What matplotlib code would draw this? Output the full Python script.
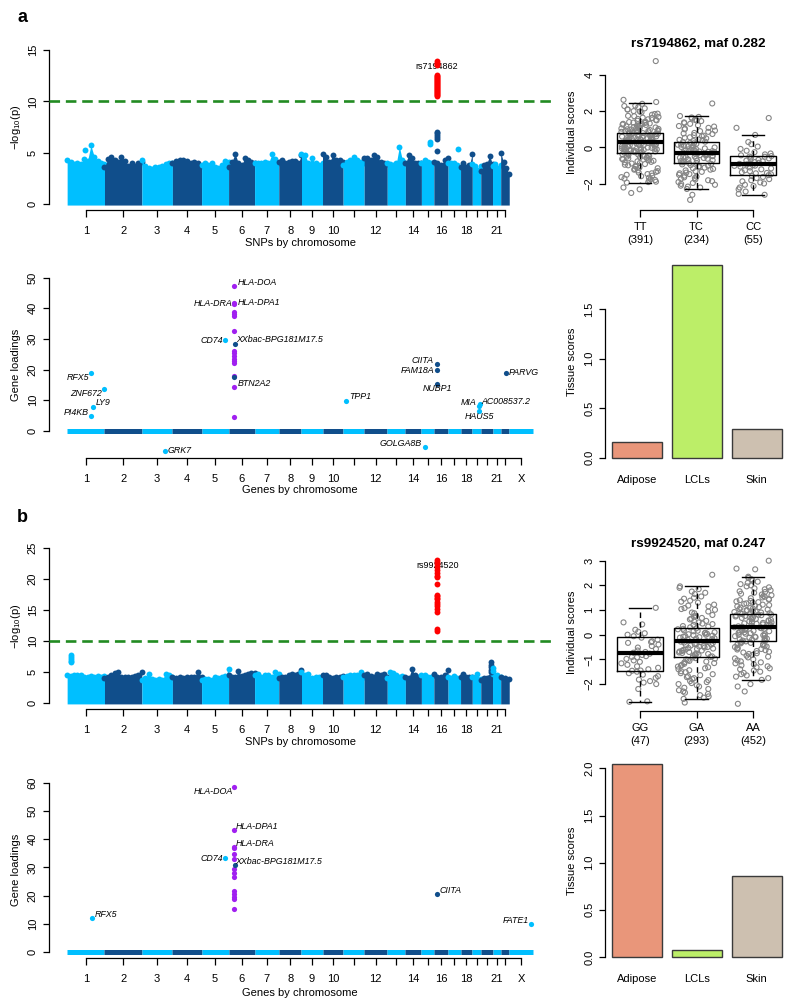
import numpy as np
import matplotlib
matplotlib.use("Agg")
import matplotlib.pyplot as plt

plt.rcParams['font.family'] = ['Liberation Sans', 'DejaVu Sans']
plt.rcParams['mathtext.fontset'] = 'custom'
plt.rcParams['mathtext.rm'] = 'Liberation Sans'
plt.rcParams['mathtext.it'] = 'Liberation Sans:italic'
plt.rcParams['axes.linewidth'] = 0.9

# ---------------------------------------------------------------- data
CHROMS = [str(i) for i in range(1, 23)] + ['X']
# relative span of each chromosome on the genome axis
CHROM_SPAN = [37.5, 37.5, 30.7, 29.3, 27.1, 26.1, 24.3, 22.8, 21.1, 20.7, 21.1, 23.2,
              18.2, 16.1, 12.5, 14.3, 12.5, 11.8, 8.5, 11.8, 8.2, 8.6, 24.0]
SNP_TICK_LABELS = ['1', '2', '3', '4', '5', '6', '7', '8', '9', '10', '', '12', '',
                   '14', '', '16', '', '18', '', '', '21', '']
GENE_TICK_LABELS = SNP_TICK_LABELS + ['X']

# Manhattan background: upper envelope of -log10(p) along each chromosome
ENV_A = [
    [4.3, 4.1, 3.9, 4.0, 3.9, 4.4, 4.2, 5.7, 4.6, 4.2, 3.95, 3.9],
    [3.6, 4.4, 4.6, 4.3, 4.1, 4.6, 4.2, 3.7, 3.95, 3.7, 3.95, 4.1],
    [4.3, 3.7, 3.5, 3.4, 3.6, 3.65, 3.7, 3.9, 3.95, 4.0],
    [3.95, 4.15, 4.3, 4.3, 4.2, 3.95, 4.1, 3.95, 3.75],
    [3.8, 3.95, 3.8, 3.95, 3.6, 3.55, 3.8, 4.2, 4.1],
    [3.6, 4.1, 4.9, 4.0, 3.8, 4.5, 4.3, 4.1, 3.95],
    [3.95, 3.95, 3.95, 4.1, 3.95, 4.85, 4.4, 3.95],
    [4.1, 4.3, 3.95, 4.1, 4.2, 4.2, 3.95, 4.8],
    [4.9, 4.8, 3.95, 4.45, 3.95, 3.8, 3.95],
    [4.9, 4.6, 4.1, 4.75, 4.3, 4.3, 4.1],
    [3.8, 4.1, 4.3, 4.6, 4.3, 4.1, 3.95],
    [4.45, 4.45, 4.3, 4.75, 4.6, 4.1, 3.95, 3.9],
    [3.95, 3.9, 3.8, 3.95, 5.6, 4.3, 3.95],
    [3.95, 4.75, 4.45, 4.0, 3.95, 3.95],
    [3.95, 4.3, 4.1, 3.95, 3.95],
    [4.1, 4.0, 3.8, 4.3, 4.45],
    [3.95, 3.95, 3.95, 3.8, 3.6],
    [3.6, 3.95, 3.6, 3.8, 4.9],
    [3.9, 3.7, 3.3, 3.7],
    [3.2, 3.8, 3.9, 4.7, 3.9],
    [3.7, 3.9, 3.5, 3.8],
    [5.0, 4.1, 3.5, 2.9],
]
ENV_B = [
    [4.5, 4.4, 4.5, 4.6, 4.5, 4.3, 4.2, 4.4, 4.3, 4.4, 4.3, 4.4],
    [4.1, 4.3, 4.5, 4.9, 5.0, 4.3, 4.2, 4.3, 4.3, 4.4, 4.6, 5.0],
    [3.8, 4.0, 4.8, 3.9, 3.8, 3.9, 3.8, 4.8, 4.6, 4.3],
    [4.2, 4.0, 4.3, 4.0, 4.3, 4.2, 4.3, 5.1, 4.3],
    [3.8, 3.9, 3.9, 3.8, 4.3, 4.0, 4.3, 4.4, 5.5],
    [4.5, 4.3, 4.2, 5.2, 4.4, 4.5, 4.8, 4.9, 4.9],
    [4.6, 4.8, 4.3, 4.5, 4.6, 4.3, 5.1, 4.8],
    [4.0, 4.3, 4.3, 4.6, 4.8, 4.6, 4.8, 5.4],
    [5.1, 4.6, 4.8, 4.0, 4.2, 4.3, 4.3],
    [4.6, 4.6, 4.3, 4.0, 4.3, 4.2, 4.4],
    [4.3, 4.4, 4.6, 4.6, 4.5, 5.0, 4.3],
    [4.6, 4.8, 4.4, 4.3, 4.8, 4.5, 4.8, 4.3],
    [4.0, 5.1, 4.9, 4.6, 4.3, 4.4, 4.1],
    [4.3, 4.0, 5.6, 4.5, 4.3, 4.4],
    [4.6, 4.5, 4.3, 4.2, 4.6],
    [4.8, 4.3, 4.3, 4.5, 5.3],
    [4.3, 4.0, 4.4, 4.1, 4.0],
    [4.3, 4.8, 4.3, 4.2, 4.2],
    [4.2, 4.8, 3.9],
    [3.8, 4.0, 4.0, 4.2, 4.3],
    [4.7, 4.6, 4.3],
    [4.3, 4.0, 3.9],
]
# isolated SNPs above the background: (chromosome, fraction along it, -log10 p values)
EXTRA_A = [(16, 0.23, [5.2, 6.3, 6.5, 6.7, 6.9, 7.0]),
           (15, 0.65, [5.8, 6.0]),
           (17, 0.80, [5.4]),
           (1, 0.47, [5.3])]
EXTRA_B = [(1, 0.09, [6.6, 6.9, 7.2, 7.5, 7.8]),
           (20, 0.90, [5.0, 5.4, 5.8, 6.2, 6.6]),
           (21, 0.10, [5.2, 5.7])]
# genome-wide significant hits (red)
HITS_CHR_A, HITS_FRAC_A = 16, 0.23
HITS_A = [10.5, 10.6, 10.7, 10.8, 10.9, 11.0, 11.1, 11.2, 11.3, 11.4, 11.5, 11.6,
          11.7, 11.8, 11.9, 12.0, 12.1, 12.2, 12.3, 12.4, 12.5, 12.6, 13.5, 13.6, 13.7, 13.9]
HITS_CHR_B, HITS_FRAC_B = 16, 0.23
HITS_B = [11.7, 11.9, 14.8, 15.2, 15.7, 16.0, 16.4, 16.8, 17.0, 17.3, 17.5, 19.3,
          20.3, 20.6, 21.0, 21.5, 22.0, 22.4, 22.8, 23.1]
LEAD_SNP_A, LEAD_SNP_Y_A = 'rs7194862', 13.4
LEAD_SNP_B, LEAD_SNP_Y_B = 'rs9924520', 22.2
THRESHOLD = 10

# gene loadings: labelled genes
GENE_A_NAMES = ['HLA-DOA', 'HLA-DPA1', 'HLA-DRA', 'CD74', 'XXbac-BPG181M17.5', 'BTN2A2',
                'RFX5', 'ZNF672', 'LY9', 'PI4KB', 'GRK7', 'TPP1', 'GOLGA8B', 'CIITA',
                'FAM18A', 'NUBP1', 'PARVG', 'MIA', 'AC008537.2', 'HAUS5']
GENE_A_CHR = ['6', '6', '6', '5', '6', '6', '1', '1', '1', '1', '3', '11', '15', '16',
              '16', '16', '22', '19', '19', '19']
GENE_A_FRAC = [0.22, 0.22, 0.22, 0.88, 0.23, 0.22, 0.65, 0.99, 0.70, 0.65, 0.76, 0.12,
               0.26, 0.22, 0.22, 0.22, 0.58, 0.79, 0.86, 0.79]
GENE_A_LOAD = [47.3, 41.8, 41.5, 29.6, 28.5, 17.4, 18.8, 13.6, 7.8, 4.8, -6.5, 9.8,
               -5.4, 21.7, 19.8, 15.4, 19.0, 8.2, 8.6, 6.4]
GENE_A_HLA = [True, True, True] + [False] * 17
HLA_A_OTHER = [38.7, 38.1, 37.5, 32.7, 26.0, 25.3, 24.4, 23.4, 22.8, 22.2, 17.9, 14.4, 4.4]

GENE_B_NAMES = ['HLA-DOA', 'HLA-DPA1', 'HLA-DRA', 'CD74', 'XXbac-BPG181M17.5', 'RFX5',
                'CIITA', 'FATE1']
GENE_B_CHR = ['6', '6', '6', '5', '6', '1', '16', 'X']
GENE_B_FRAC = [0.22, 0.22, 0.22, 0.88, 0.23, 0.66, 0.22, 0.93]
GENE_B_LOAD = [58.6, 43.4, 37.2, 33.3, 30.9, 12.0, 20.4, 10.0]
GENE_B_HLA = [True, True, True, False, False, False, False, False]
HLA_B_OTHER = [36.8, 34.9, 33.1, 29.3, 27.9, 26.5, 21.7, 20.5, 19.6, 18.6, 15.3]
HLA_FRAC = 0.22

# individual scores by genotype
GENO_A = ['TT', 'TC', 'CC']
GENO_A_N = [391, 234, 55]
TITLE_A = 'rs7194862, maf 0.282'
TT_SCORES = [4.75, 2.62, 2.4, 2.3, 2.22, 2.15, 2.08, 2.0, 1.93, 1.86, 1.8, 1.74, 1.68, 1.62,
             1.57, 1.52, 1.47, 1.42, 1.37, 1.32, 1.28, 1.24, 1.2, 1.16, 1.12, 1.08, 1.04,
             1.0, 0.97, 0.94, 0.91, 0.88, 0.85, 0.82, 0.79, 0.76, 0.73, 0.7, 0.67, 0.64,
             0.61, 0.58, 0.55, 0.52, 0.49, 0.46, 0.43, 0.4, 0.37, 0.34, 0.31, 0.28, 0.25,
             0.22, 0.19, 0.16, 0.13, 0.1, 0.07, 0.04, 0.01, -0.02, -0.05, -0.08, -0.11,
             -0.14, -0.17, -0.2, -0.23, -0.26, -0.29, -0.33, -0.37, -0.41, -0.45, -0.5,
             -0.55, -0.6, -0.65, -0.7, -0.76, -0.82, -0.88, -0.95, -1.02, -1.1, -1.18,
             -1.26, -1.34, -1.42, -1.5, -1.58, -1.66, -1.74, -1.82, -1.88, -1.93, -2.2,
             -2.3, -2.5,
             2.5, 2.28, 2.1, 1.97, 1.84, 1.72, 1.64, 1.55, 1.49, 1.4, 1.35, 1.3, 1.26, 1.22,
             1.18, 1.14, 1.1, 1.06, 1.02, 0.99, 0.96, 0.92, 0.89, 0.86, 0.83, 0.8, 0.77,
             0.74, 0.71, 0.69, 0.66, 0.63, 0.6, 0.57, 0.54, 0.51, 0.48, 0.45, 0.42, 0.39,
             0.36, 0.33, 0.3, 0.27, 0.24, 0.21, 0.18, 0.15, 0.12, 0.09, 0.06, 0.03, 0.0,
             -0.03, -0.07, -0.1, -0.13, -0.16, -0.19, -0.22, -0.25, -0.28, -0.31, -0.35,
             -0.39, -0.43, -0.48, -0.53, -0.58, -0.63, -0.68, -0.73, -0.79, -0.85, -0.91,
             -0.98, -1.06, -1.14, -1.22, -1.3, -1.38, -1.46, -1.55, -1.63, -1.71, -1.79, -1.9]
TC_SCORES = [2.42, 1.73, 1.68, 1.6, 1.52, 1.45, 1.38, 1.3, 1.22, 1.15, 1.08, 1.0, 0.93,
             0.86, 0.8, 0.74, 0.68, 0.62, 0.56, 0.5, 0.45, 0.4, 0.35, 0.3, 0.25, 0.2, 0.15,
             0.1, 0.05, 0.0, -0.05, -0.1, -0.14, -0.18, -0.22, -0.26, -0.3, -0.34, -0.38,
             -0.42, -0.46, -0.5, -0.54, -0.58, -0.62, -0.67, -0.72, -0.77, -0.82, -0.87,
             -0.93, -1.0, -1.07, -1.14, -1.22, -1.3, -1.38, -1.46, -1.55, -1.64, -1.72,
             -1.8, -1.9, -2.0, -2.1, -2.2, -2.28, -2.6, -2.88,
             1.65, 1.48, 1.34, 1.18, 1.03, 0.9, 0.77, 0.65, 0.53, 0.42, 0.32, 0.23, 0.16,
             0.08, 0.03, -0.03, -0.08, -0.12, -0.16, -0.2, -0.24, -0.28, -0.32, -0.36, -0.4,
             -0.44, -0.48, -0.52, -0.56, -0.6, -0.65, -0.7, -0.75, -0.8, -0.85, -0.9, -0.97,
             -1.04, -1.11, -1.18, -1.26, -1.34, -1.42, -1.5, -1.6, -1.68, -1.76, -1.85,
             -1.95, -2.05, -2.15]
CC_SCORES = [1.62, 1.08, 0.69, 0.3, 0.18, 0.05, -0.08, -0.18, -0.26, -0.33, -0.38, -0.43,
             -0.47, -0.51, -0.55, -0.6, -0.64, -0.68, -0.72, -0.76, -0.8, -0.84, -0.88,
             -0.9, -0.93, -0.97, -1.01, -1.05, -1.1, -1.15, -1.2, -1.25, -1.3, -1.36,
             -1.42, -1.47, -1.52, -1.57, -1.62, -1.68, -1.74, -1.8, -1.86, -1.92, -1.98,
             -2.05, -2.12, -2.2, -2.3, -2.42, -2.55, -2.6, -1.0, -0.5, -1.4]
# box statistics (whislo, q1, median, q3, whishi)
BOX_A = [[-1.93, -0.28, 0.28, 0.81, 2.43],
         [-2.28, -0.83, -0.30, 0.32, 1.73],
         [-2.60, -1.49, -0.90, -0.47, 0.69]]

GENO_B = ['GG', 'GA', 'AA']
GENO_B_N = [47, 293, 452]
TITLE_B = 'rs9924520, maf 0.247'
GG_SCORES = [1.09, 0.5, 0.42, 0.2, 0.12, 0.06, 0.0, -0.06, -0.12, -0.2, -0.27, -0.33,
             -0.4, -0.46, -0.52, -0.58, -0.64, -0.7, -0.73, -0.77, -0.82, -0.87, -0.92,
             -0.98, -1.04, -1.1, -1.16, -1.22, -1.28, -1.34, -1.4, -1.46, -1.5, -1.56,
             -1.62, -1.68, -1.75, -1.82, -1.88, -1.94, -2.0, -2.2, -2.72, -2.7, -0.3,
             -0.9, -1.45]
GA_SCORES = [2.43, 1.96, 1.85, 1.75, 1.65, 1.55, 1.46, 1.38, 1.3, 1.22, 1.15, 1.08, 1.01,
             0.94, 0.87, 0.8, 0.74, 0.68, 0.62, 0.56, 0.5, 0.45, 0.4, 0.35, 0.3, 0.26, 0.22,
             0.18, 0.14, 0.1, 0.06, 0.02, -0.02, -0.06, -0.1, -0.14, -0.18, -0.22, -0.26,
             -0.3, -0.34, -0.38, -0.42, -0.46, -0.5, -0.54, -0.58, -0.62, -0.66, -0.7,
             -0.74, -0.78, -0.82, -0.86, -0.9, -0.95, -1.0, -1.06, -1.12, -1.18, -1.25,
             -1.32, -1.4, -1.48, -1.56, -1.64, -1.72, -1.8, -1.88, -1.96, -2.05, -2.15,
             -2.25, -2.35, -2.45, -2.6, -2.55, -2.75,
             1.9, 1.7, 1.5, 1.34, 1.18, 1.04, 0.9, 0.77, 0.65, 0.53, 0.43, 0.33, 0.24, 0.16,
             0.08, 0.04, 0.0, -0.04, -0.08, -0.12, -0.16, -0.2, -0.24, -0.28, -0.32, -0.36,
             -0.4, -0.44, -0.48, -0.52, -0.56, -0.6, -0.64, -0.68, -0.72, -0.76, -0.8,
             -0.84, -0.88, -0.92, -0.97, -1.03, -1.09, -1.15, -1.22, -1.29, -1.36, -1.44,
             -1.52, -1.6, -1.68, -1.76, -1.84, -1.92, -2.0, -2.1, -2.2, -2.3, -2.4, -2.5]
AA_SCORES = [3.0, 2.68, 2.65, 2.35, 2.25, 2.15, 2.05, 1.96, 1.88, 1.8, 1.73, 1.66, 1.6,
             1.54, 1.48, 1.42, 1.37, 1.32, 1.27, 1.22, 1.17, 1.12, 1.08, 1.04, 1.0, 0.96,
             0.92, 0.88, 0.85, 0.82, 0.79, 0.76, 0.72, 0.68, 0.64, 0.6, 0.56, 0.52, 0.48,
             0.44, 0.4, 0.36, 0.32, 0.28, 0.24, 0.2, 0.16, 0.12, 0.08, 0.04, 0.0, -0.04,
             -0.08, -0.12, -0.16, -0.2, -0.24, -0.27, -0.31, -0.35, -0.4, -0.45, -0.5,
             -0.55, -0.6, -0.66, -0.72, -0.78, -0.85, -0.92, -1.0, -1.08, -1.16, -1.24,
             -1.32, -1.4, -1.5, -1.6, -1.7, -1.83, -2.0, -2.1, -2.3, -2.8,
             2.3, 2.2, 2.1, 2.0, 1.92, 1.84, 1.76, 1.7, 1.63, 1.57, 1.51, 1.45, 1.4, 1.35,
             1.3, 1.25, 1.2, 1.15, 1.1, 1.06, 1.02, 0.98, 0.94, 0.9, 0.87, 0.84, 0.81, 0.78,
             0.74, 0.7, 0.66, 0.62, 0.58, 0.54, 0.5, 0.46, 0.42, 0.38, 0.34, 0.3, 0.26,
             0.22, 0.18, 0.14, 0.1, 0.06, 0.02, -0.02, -0.06, -0.1, -0.14, -0.18, -0.22,
             -0.25, -0.29, -0.33, -0.38, -0.43, -0.48, -0.53, -0.58, -0.63, -0.69, -0.75,
             -0.82, -0.89, -0.96, -1.04, -1.12, -1.2, -1.28, -1.36, -1.45, -1.55, -1.65,
             -1.76]
BOX_B = [[-2.72, -1.49, -0.73, -0.09, 1.09],
         [-2.60, -0.90, -0.27, 0.26, 1.96],
         [-1.83, -0.27, 0.32, 0.85, 2.35]]

# tissue scores
TISSUES = ['Adipose', 'LCLs', 'Skin']
TISSUE_A = [0.155, 1.95, 0.29]
TISSUE_B = [2.05, 0.07, 0.86]

# ---------------------------------------------------------------- style
LIGHT = '#00BFFF'
DARK = '#104E8B'
PURPLE = '#A020F0'
TISSUE_COLORS = ['#E9967A', '#BCEE68', '#CDC0B0']
GREY = '#858585'
TICK_FS = 8
LAB_FS = 8

W, H = 800, 1008
fig = plt.figure(figsize=(W / 100, H / 100), dpi=100)

LEFT_L, LEFT_R = 48.5, 551.8
RIGHT_L, RIGHT_R = 605.0, 791.7


def add_axes_px(L, T, R, B):
    return fig.add_axes([L / W, 1 - B / H, (R - L) / W, (B - T) / H])


span = np.array(CHROM_SPAN)
starts = np.concatenate([[0.0], np.cumsum(span)[:-1]])
centers = starts + span / 2
total = span.sum()
XLIM = (-0.04 * total, 1.04 * total)


def chrom_x(ch, frac):
    i = CHROMS.index(str(ch))
    return starts[i] + frac * span[i]


def chrom_color(i):
    return LIGHT if i % 2 == 0 else DARK


def jitter_offsets(n):
    # deterministic, well-scrambled horizontal spread in [-0.5, 0.5)
    k = np.arange(n) + 1.0
    return (np.sin(k * 12.9898) * 43758.5453) % 1.0 - 0.5


def r_axes(ax, yticks, yticklabels=None, ylabel=None, ylabel_xpx=None, L=None, R=None):
    ax.spines['top'].set_visible(False)
    ax.spines['right'].set_visible(False)
    ax.spines['left'].set_bounds(yticks[0], yticks[-1])
    ax.set_yticks(yticks)
    if yticklabels is not None:
        ax.set_yticklabels(yticklabels)
    ax.tick_params(axis='y', length=4.5, width=0.9, pad=3.2, labelsize=TICK_FS,
                   rotation=90)
    for t in ax.get_yticklabels():
        t.set_va('center')
    if ylabel is not None:
        ax.set_ylabel(ylabel, fontsize=LAB_FS)
        ax.yaxis.set_label_coords((ylabel_xpx - L) / (R - L), 0.5)
        ax.yaxis.label.set_va('center')


def manhattan(ax, env, extra, hits_chr, hits_frac, hits, snp, snp_y, ylim):
    for i, e in enumerate(env):
        xs = starts[i] + np.linspace(0.0, 1.0, len(e)) * span[i]
        c = chrom_color(i)
        ax.fill_between(xs, -0.1, e, color=c, lw=0, zorder=2)
        ax.scatter(xs, e, s=18, color=c, lw=0, zorder=2)
    for ch, fr, vals in extra:
        i = CHROMS.index(str(ch))
        ax.scatter([chrom_x(ch, fr)] * len(vals), vals, s=18, color=chrom_color(i),
                   lw=0, zorder=3)
    hx = chrom_x(hits_chr, hits_frac)
    ax.text(hx, snp_y, snp, fontsize=6.5, ha='center', va='center', zorder=3)
    ax.scatter([hx] * len(hits), hits, s=18, color='red', lw=0, zorder=4)
    ax.axhline(THRESHOLD, color='#228B22', lw=1.9, dashes=(4, 2.2), zorder=5)
    ax.set_xlim(*XLIM)
    ax.set_ylim(*ylim)
    ax.set_xticks(centers[:22])
    ax.set_xticklabels(SNP_TICK_LABELS)
    ax.spines['bottom'].set_bounds(centers[0], centers[21])
    ax.tick_params(axis='x', length=5, width=0.9, pad=6.5, labelsize=TICK_FS)


def genes(ax, names, chrs, fracs, loads, is_hla, hla_other, layout, ylim):
    for i in range(len(CHROMS)):
        ax.plot([starts[i], starts[i] + span[i]], [0, 0], color=chrom_color(i), lw=3.6,
                solid_capstyle='butt', zorder=2)
    hx = chrom_x(6, HLA_FRAC)
    ax.scatter([hx] * len(hla_other), hla_other, s=14, color=PURPLE, lw=0, zorder=3)
    for nm, ch, fr, ld, hla in zip(names, chrs, fracs, loads, is_hla):
        x = chrom_x(ch, fr)
        c = PURPLE if hla else chrom_color(CHROMS.index(ch))
        ax.scatter([x], [ld], s=14, color=c, lw=0, zorder=4)
        ha, dx, dy = layout[nm]
        ax.annotate(nm, (x, ld), xytext=(dx, dy), textcoords='offset points',
                    ha=ha, va='center', fontsize=6.4, style='italic', zorder=5)
    ax.set_xlim(*XLIM)
    ax.set_ylim(*ylim)
    ax.set_xticks(centers)
    ax.set_xticklabels(GENE_TICK_LABELS)
    ax.spines['bottom'].set_bounds(centers[0], centers[-1])
    ax.tick_params(axis='x', length=5, width=0.9, pad=6.5, labelsize=TICK_FS)


def boxpanel(ax, scores_list, box, geno, counts, title, title_y, ylim):
    for k, scores in enumerate(scores_list):
        xs = (k + 1) + jitter_offsets(len(scores)) * 0.66
        ax.scatter(xs, scores, s=13, facecolors='none', edgecolors=GREY, lw=0.8,
                   zorder=2)
    stats = [dict(whislo=b[0], q1=b[1], med=b[2], q3=b[3], whishi=b[4], fliers=[])
             for b in box]
    ax.bxp(stats, positions=[1, 2, 3], widths=0.8, showfliers=False,
           boxprops=dict(color='black', lw=1.0, zorder=3),
           whiskerprops=dict(color='black', lw=1.0, ls=(0, (4, 3)), zorder=3),
           capprops=dict(color='black', lw=1.0, zorder=3),
           medianprops=dict(color='black', lw=3.0, zorder=3))
    ax.set_xlim(0.38, 3.685)
    ax.set_ylim(*ylim)
    ax.set_xticks([1, 2, 3])
    ax.set_xticklabels([f'{g}\n({n})' for g, n in zip(geno, counts)], linespacing=1.3)
    ax.spines['bottom'].set_bounds(1, 3)
    ax.tick_params(axis='x', length=5, width=0.9, pad=4, labelsize=TICK_FS)
    ax.text(0.5, title_y, title, transform=ax.transAxes, ha='center', va='center',
            fontsize=9.7, fontweight='bold')


def barpanel(ax, vals, ylim):
    ax.bar([0.7, 1.9, 3.1], vals, width=1.0, color=TISSUE_COLORS, edgecolor='#3a3a3a',
           lw=1.0, zorder=2)
    ax.set_xlim(0.066, 3.8)
    ax.set_ylim(*ylim)
    ax.set_xticks([0.7, 1.9, 3.1])
    ax.set_xticklabels(TISSUES)
    ax.spines['bottom'].set_visible(False)
    ax.tick_params(axis='x', length=0, pad=5.5, labelsize=TICK_FS)


LAYOUT_A = {
    'HLA-DOA': ('left', 2.8, 2.4), 'HLA-DPA1': ('left', 2.1, 0.0),
    'HLA-DRA': ('right', -1.0, 0.0), 'CD74': ('right', -1.8, 0.0),
    'XXbac-BPG181M17.5': ('left', 1.5, 2.9), 'BTN2A2': ('left', 2.6, -4.3),
    'RFX5': ('right', -1.8, -3.1), 'ZNF672': ('right', -1.8, -3.1),
    'LY9': ('left', 1.5, 2.9), 'PI4KB': ('right', -1.8, 2.7),
    'GRK7': ('left', 2.1, 0.0), 'TPP1': ('left', 2.6, 2.9),
    'GOLGA8B': ('right', -2.4, 2.9), 'CIITA': ('right', -2.4, 3.1),
    'FAM18A': ('right', -1.8, 0.0), 'NUBP1': ('center', 0.0, -3.6),
    'PARVG': ('left', 2.1, 0.0), 'MIA': ('right', -1.8, 2.2),
    'AC008537.2': ('left', 1.1, 2.0), 'HAUS5': ('center', 0.0, -3.6),
}
LAYOUT_B = {
    'HLA-DOA': ('right', -1.3, -3.1), 'HLA-DPA1': ('left', 1.3, 2.4),
    'HLA-DRA': ('left', 1.3, 2.4), 'CD74': ('right', -1.8, 0.0),
    'XXbac-BPG181M17.5': ('left', 0.5, 2.4), 'RFX5': ('left', 1.8, 2.7),
    'CIITA': ('left', 2.1, 2.7), 'FATE1': ('right', -2.1, 2.4),
}

# ---------------------------------------------------------------- panel a
ax = add_axes_px(LEFT_L, 43.8, LEFT_R, 210.2)
manhattan(ax, ENV_A, EXTRA_A, HITS_CHR_A, HITS_FRAC_A, HITS_A, LEAD_SNP_A, LEAD_SNP_Y_A,
          (-0.6, 15.6))
r_axes(ax, [0, 5, 10, 15], ylabel=r'$\mathregular{-log_{10}(p)}$', ylabel_xpx=16,
       L=LEFT_L, R=LEFT_R)
ax.set_xlabel('SNPs by chromosome', fontsize=LAB_FS)
ax.xaxis.set_label_coords(0.5, -32.8 / 166.4)
ax.xaxis.label.set_va('center')

ax = add_axes_px(LEFT_L, 271.6, LEFT_R, 457.9)
genes(ax, GENE_A_NAMES, GENE_A_CHR, GENE_A_FRAC, GENE_A_LOAD, GENE_A_HLA, HLA_A_OTHER,
      LAYOUT_A, (-8.89, 52.0))
r_axes(ax, [0, 10, 20, 30, 40, 50], ylabel='Gene loadings', ylabel_xpx=16,
       L=LEFT_L, R=LEFT_R)
ax.set_xlabel('Genes by chromosome', fontsize=LAB_FS)
ax.xaxis.set_label_coords(0.5, -32.0 / 186.3)
ax.xaxis.label.set_va('center')

ax = add_axes_px(RIGHT_L, 54.7, RIGHT_R, 209.7)
boxpanel(ax, [TT_SCORES, TC_SCORES, CC_SCORES], BOX_A, GENO_A, GENO_A_N, TITLE_A,
         1 + 10.7 / 155.0, (-3.42, 5.1))
r_axes(ax, [-2, 0, 2, 4], ylabel='Individual scores', ylabel_xpx=571.7,
       L=RIGHT_L, R=RIGHT_R)

ax = add_axes_px(RIGHT_L, 257.0, RIGHT_R, 467.4)
barpanel(ax, TISSUE_A, (-0.098, 2.029))
r_axes(ax, [0, 0.5, 1.0, 1.5], ['0.0', '0.5', '1.0', '1.5'], ylabel='Tissue scores',
       ylabel_xpx=571.7, L=RIGHT_L, R=RIGHT_R)

# ---------------------------------------------------------------- panel b
ax = add_axes_px(LEFT_L, 543.3, LEFT_R, 709.0)
manhattan(ax, ENV_B, EXTRA_B, HITS_CHR_B, HITS_FRAC_B, HITS_B, LEAD_SNP_B, LEAD_SNP_Y_B,
          (-0.92, 25.8))
r_axes(ax, [0, 5, 10, 15, 20, 25], ylabel=r'$\mathregular{-log_{10}(p)}$', ylabel_xpx=16,
       L=LEFT_L, R=LEFT_R)
ax.set_xlabel('SNPs by chromosome', fontsize=LAB_FS)
ax.xaxis.set_label_coords(0.5, -32.8 / 165.7)
ax.xaxis.label.set_va('center')

ax = add_axes_px(LEFT_L, 780.5, LEFT_R, 958.3)
genes(ax, GENE_B_NAMES, GENE_B_CHR, GENE_B_FRAC, GENE_B_LOAD, GENE_B_HLA, HLA_B_OTHER,
      LAYOUT_B, (-2.35, 60.93))
r_axes(ax, [0, 10, 20, 30, 40, 50, 60], ylabel='Gene loadings', ylabel_xpx=16,
       L=LEFT_L, R=LEFT_R)
ax.set_xlabel('Genes by chromosome', fontsize=LAB_FS)
ax.xaxis.set_label_coords(0.5, -34.7 / 177.8)
ax.xaxis.label.set_va('center')

ax = add_axes_px(RIGHT_L, 553.3, RIGHT_R, 710.7)
boxpanel(ax, [GG_SCORES, GA_SCORES, AA_SCORES], BOX_B, GENO_B, GENO_B_N, TITLE_B,
         1 + 9.3 / 157.4, (-3.08, 3.30))
r_axes(ax, [-2, -1, 0, 1, 2, 3], ylabel='Individual scores', ylabel_xpx=571.7,
       L=RIGHT_L, R=RIGHT_R)

ax = add_axes_px(RIGHT_L, 755.9, RIGHT_R, 966.7)
barpanel(ax, TISSUE_B, (-0.103, 2.133))
r_axes(ax, [0, 0.5, 1.0, 1.5, 2.0], ['0.0', '0.5', '1.0', '1.5', '2.0'],
       ylabel='Tissue scores', ylabel_xpx=571.7, L=RIGHT_L, R=RIGHT_R)

fig.text(22 / W, 1 - 18 / H, 'a', fontsize=13, fontweight='bold', ha='center', va='center')
fig.text(22 / W, 1 - 517 / H, 'b', fontsize=13, fontweight='bold', ha='center', va='center')

fig.savefig('out.png', dpi=100)
